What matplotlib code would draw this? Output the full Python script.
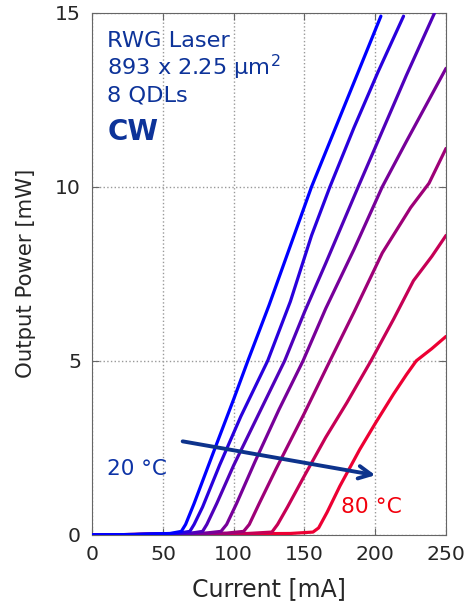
import numpy as np
import matplotlib.pyplot as plt

plt.rcParams['font.family'] = ['DejaVu Sans']
plt.rcParams['mathtext.fontset'] = 'dejavusans'

temps = [20, 30, 40, 50, 60, 70, 80]

cur_20 = [0, 30, 55, 63, 66, 72, 85, 100, 110, 125, 140, 155, 170, 187, 204]
pow_20 = [0, 0.01, 0.04, 0.1, 0.3, 0.9, 2.3, 3.9, 5.0, 6.6, 8.3, 10.0, 11.5, 13.2, 14.9]
cur_30 = [0, 30, 60, 69, 72, 78, 90, 105, 124, 140, 155, 168, 185, 202, 220]
pow_30 = [0, 0.01, 0.04, 0.1, 0.3, 0.8, 2.0, 3.4, 5.0, 6.7, 8.6, 10.0, 11.7, 13.3, 14.9]
cur_40 = [0, 30, 70, 78, 81, 88, 100, 118, 136, 150, 165, 188, 205, 222, 242]
pow_40 = [0, 0.01, 0.05, 0.1, 0.3, 0.9, 2.0, 3.5, 5.0, 6.4, 7.8, 10.0, 11.6, 13.2, 15.0]
cur_50 = [0, 30, 80, 91, 95, 102, 115, 132, 149, 165, 185, 205, 222, 238, 250]
pow_50 = [0, 0.01, 0.05, 0.1, 0.3, 0.9, 2.1, 3.6, 5.0, 6.5, 8.2, 10.0, 11.3, 12.5, 13.4]
cur_60 = [0, 30, 95, 107, 111, 118, 130, 150, 168, 185, 205, 225, 238, 250]
pow_60 = [0, 0.01, 0.05, 0.1, 0.3, 0.9, 1.9, 3.5, 5.0, 6.4, 8.1, 9.4, 10.1, 11.1]
cur_70 = [0, 30, 110, 127, 131, 138, 150, 165, 180, 197, 213, 227, 240, 250]
pow_70 = [0, 0.01, 0.04, 0.08, 0.3, 0.8, 1.7, 2.8, 3.8, 5.0, 6.2, 7.3, 8.0, 8.6]
cur_80 = [0, 30, 140, 156, 160, 166, 175, 189, 200, 213, 222, 229, 240, 250]
pow_80 = [0, 0.01, 0.04, 0.08, 0.2, 0.65, 1.4, 2.45, 3.2, 4.05, 4.6, 5.0, 5.35, 5.7]

currents = [cur_20, cur_30, cur_40, cur_50, cur_60, cur_70, cur_80]
powers = [pow_20, pow_30, pow_40, pow_50, pow_60, pow_70, pow_80]

info_lines = ['RWG Laser', '893 x 2.25 µm$^2$', '8 QDLs']

fig = plt.figure(figsize=(4.68, 6.03), dpi=100)
ax = fig.add_axes([0.197, 0.113, 0.756, 0.866])

blue = np.array([0.0, 0.0, 1.0])
red = np.array([0.93, 0.0, 0.2])
n = len(temps)
# hottest first so the cooler curves sit on top along the baseline
for i in reversed(range(n)):
    c = blue + (red - blue) * i / (n - 1)
    ax.plot(currents[i], powers[i], color=c, lw=2.3,
            solid_capstyle='round', solid_joinstyle='round', zorder=3)

ax.set_xlim(0, 250)
ax.set_ylim(0, 15)
ax.set_xticks([0, 50, 100, 150, 200, 250])
ax.set_yticks([0, 5, 10, 15])
ax.grid(True, ls=':', color='0.6', lw=1)
ax.tick_params(direction='in', top=True, right=True, labelsize=14.7, colors='0.4',
               labelcolor='0.15', length=5)
ax.tick_params(axis='x', pad=7)
ax.tick_params(axis='y', pad=8)
for s in ax.spines.values():
    s.set_color('0.4')

ax.set_xlabel('Current [mA]', fontsize=17, color='0.15')
ax.set_ylabel('Output Power [mW]', fontsize=15.3, color='0.15')
ax.xaxis.set_label_coords(0.5, -0.080)
ax.yaxis.set_label_coords(-0.158, 0.5)

txt = (0.05, 0.2, 0.6)
for k, (line, yv) in enumerate(zip(info_lines, [14.02, 13.19, 12.44])):
    ax.text(10.6, yv, line, fontsize=16.2, color=txt, va='baseline', ha='left')
ax.text(10.6, 11.35, 'CW', fontsize=20, fontweight='bold', color=txt,
        va='baseline', ha='left')

ax.annotate('', xy=(202, 1.7), xytext=(62, 2.7),
            arrowprops=dict(arrowstyle='->,head_length=0.9,head_width=0.45',
                            color=(0.05, 0.2, 0.55), lw=2.8), zorder=4)
ax.text(10.6, 1.9, '20 °C', fontsize=15.5, color=(0.05, 0.2, 0.65), va='center', ha='left')
ax.text(176, 0.8, '80 °C', fontsize=15.7, color=(0.95, 0.0, 0.05), va='center', ha='left')

fig.savefig('out.png', dpi=100)
